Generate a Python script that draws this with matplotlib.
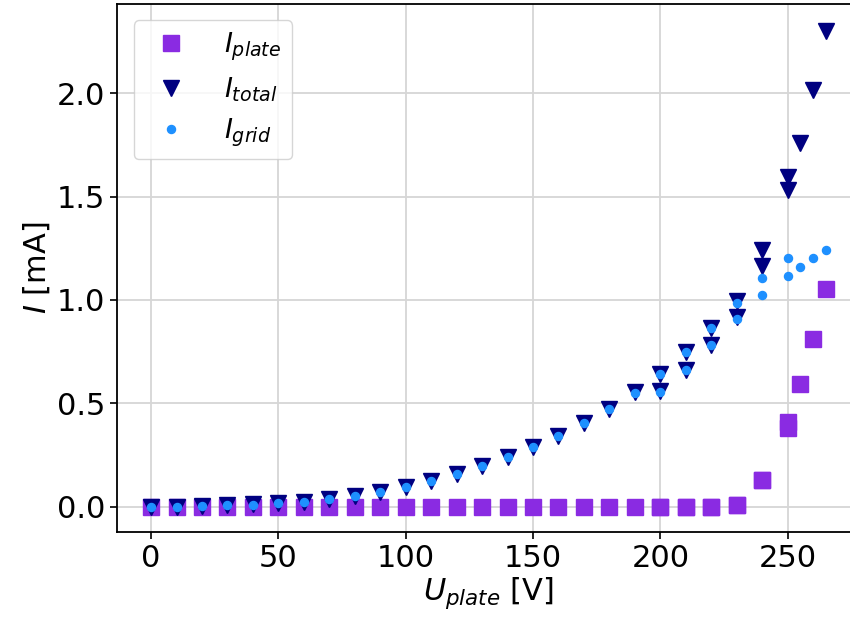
import numpy as np
import matplotlib.pyplot as plt

# plate voltage [V]
U_plate = [0, 10, 20, 30, 40, 50, 60, 70, 80, 90, 100, 110, 120, 130, 140, 150, 160, 170, 180, 190,
           200, 200, 210, 210, 220, 220, 230, 230, 240, 240, 250, 250, 255, 260, 265]
# currents [mA]
I_plate = [0.0, 0.0, 0.0, 0.0, 0.0, 0.0, 0.0, 0.0, 0.0, 0.0, 0.0, 0.0, 0.0, 0.0, 0.0, 0.0, 0.0, 0.0, 0.0, 0.0,
           0.0, 0.0, 0.0, 0.0, 0.0, 0.0, 0.010, 0.010, 0.130, 0.130, 0.409, 0.383, 0.593, 0.812, 1.054]
I_grid = [0.0, 0.0, 0.003, 0.006, 0.010, 0.016, 0.024, 0.037, 0.053, 0.072, 0.097, 0.122, 0.158, 0.195,
          0.238, 0.287, 0.343, 0.405, 0.475, 0.551,
          0.557, 0.641, 0.662, 0.749, 0.781, 0.863, 0.907, 0.987, 1.023, 1.108, 1.117, 1.204, 1.161, 1.203, 1.240]
I_total = [0.0, 0.0, 0.003, 0.006, 0.011, 0.016, 0.024, 0.037, 0.053, 0.072, 0.097, 0.124, 0.158, 0.195,
           0.238, 0.287, 0.343, 0.405, 0.473, 0.553,
           0.558, 0.643, 0.663, 0.750, 0.782, 0.864, 0.920, 0.995, 1.164, 1.241, 1.530, 1.594, 1.760, 2.018, 2.300]

fig = plt.figure(figsize=(8.5, 6.21), dpi=100)
ax = fig.add_axes([0.138, 0.1438, 0.8733, 0.8498])

ax.grid(True, color='#d6d6d6', linewidth=1.3, zorder=0)
ax.set_axisbelow(True)

ax.plot(U_plate, I_plate, 's', color='blueviolet', ms=11.8, label=r'$I_{plate}$', zorder=3)
ax.plot(U_plate, I_total, 'v', color='navy', ms=12, label=r'$I_{total}$', zorder=4)
ax.plot(U_plate, I_grid, 'o', color='dodgerblue', ms=5.8, label=r'$I_{grid}$', zorder=5)

ax.set_xlim(-13.25, 278.25)
ax.set_ylim(-0.121, 2.432)
ax.set_xticks([0, 50, 100, 150, 200, 250])
ax.set_yticks([0.0, 0.5, 1.0, 1.5, 2.0])
ax.tick_params(labelsize=22, width=1.2, length=5)
for s in ax.spines.values():
    s.set_linewidth(1.3)

ax.set_xlabel(r'$U_{plate}$ [V]', fontsize=22, labelpad=2)
ax.set_ylabel(r'$I$ [mA]', fontsize=22)

ax.legend(loc='upper left', fontsize=19.5, borderaxespad=0.6, handletextpad=0.95, labelspacing=0.45)

plt.savefig('out.png', dpi=100)
